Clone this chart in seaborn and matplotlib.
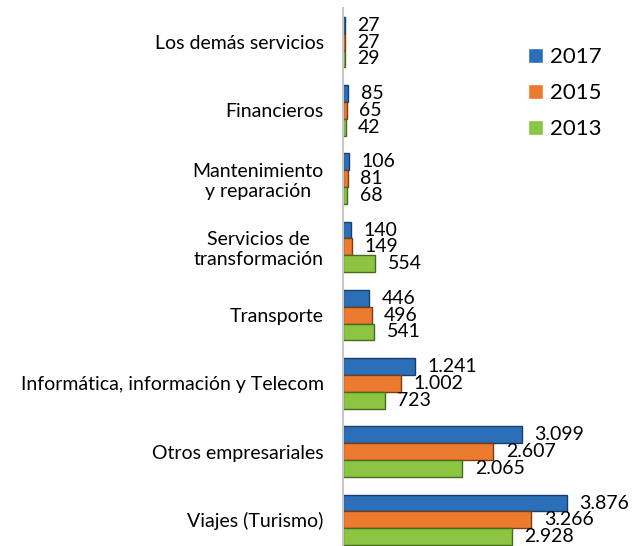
import pandas as pd
import matplotlib
matplotlib.use("Agg")
import matplotlib.pyplot as plt
import seaborn as sns

categories = [
    "Los demás servicios",
    "Financieros",
    "Mantenimiento\ny reparación",
    "Servicios de\ntransformación",
    "Transporte",
    "Informática, información y Telecom",
    "Otros empresariales",
    "Viajes (Turismo)",
]
years = ["2017", "2015", "2013"]
values_2017 = [27, 85, 106, 140, 446, 1241, 3099, 3876]
values_2015 = [27, 65, 81, 149, 496, 1002, 2607, 3266]
values_2013 = [29, 42, 68, 554, 541, 723, 2065, 2928]

COLORS = {"2017": "#2a6fb8", "2015": "#ec7b30", "2013": "#8cc541"}
EDGES = {"2017": "#163f6b", "2015": "#7a3c12", "2013": "#466a22"}

df = pd.DataFrame({
    "Categoria": categories * 3,
    "Año": ["2017"] * 8 + ["2015"] * 8 + ["2013"] * 8,
    "Valor": values_2017 + values_2015 + values_2013,
})

sns.set_theme(style="white")
plt.rcParams["font.family"] = ["Lato", "DejaVu Sans"]

fig = plt.figure(figsize=(6.39, 5.46), dpi=100)
ax = fig.add_axes([0.537, -0.0147, 0.46, 1.0])

sns.barplot(data=df, y="Categoria", x="Valor", hue="Año", order=categories,
            hue_order=years, palette=COLORS, orient="h", width=0.74,
            saturation=1, ax=ax)

for container, yr in zip(ax.containers, years):
    for bar in container:
        bar.set_edgecolor(EDGES[yr])
        bar.set_linewidth(1.0)
    labels = [f"{int(v):,}".replace(",", ".") for v in container.datavalues]
    ax.bar_label(container, labels=labels, padding=9, fontsize=14, color="black")

ax.set_xlim(0, 5100)
ax.set_ylim(7.5, -0.5)
ax.set_xlabel("")
ax.set_ylabel("")
ax.set_xticks([])
ax.tick_params(axis="y", length=0, labelsize=14, pad=14, labelcolor="black")
for lbl in ax.get_yticklabels():
    lbl.set_multialignment("center")
for s in ["top", "right", "bottom"]:
    ax.spines[s].set_visible(False)
ax.spines["left"].set_color("#c8c8c8")
ax.spines["left"].set_linewidth(1.5)

handles, labs = ax.get_legend_handles_labels()
ax.legend(handles, labs, loc="upper left", bbox_to_anchor=(0.56, 0.965),
          frameon=False, fontsize=16, handlelength=0.7, handleheight=0.7,
          handletextpad=0.3, labelspacing=0.72, labelcolor="black")

fig.savefig("out.png", dpi=100)
